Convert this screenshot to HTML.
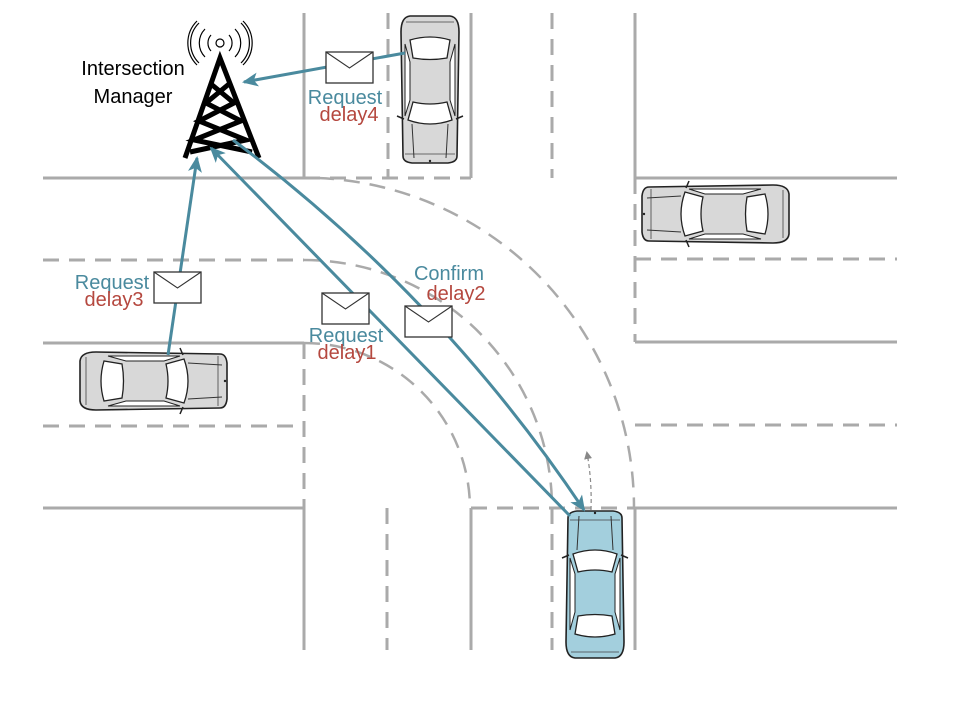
<!DOCTYPE html>
<html><head><meta charset="utf-8"><style>
html,body{margin:0;padding:0;background:#fff;}
svg{display:block;}
text{font-family:"Liberation Sans",sans-serif;}
</style></head><body>
<svg width="956" height="708" viewBox="0 0 956 708" xmlns="http://www.w3.org/2000/svg">
<defs>
<g id="car">
  <path d="M-27,6 Q-27,0 -18,-1 L18,-1 Q27,0 27,6 L29,130 Q29,145 20,146 L-20,146 Q-29,145 -29,130 Z" fill="currentColor" stroke="#222" stroke-width="1.6"/>
  <path d="M-25,8 L25,8 M-24,140 L24,140" stroke="#444" stroke-width="0.8" fill="none"/>
  <path d="M-16,4 L-18,38 M16,4 L18,38" stroke="#333" stroke-width="1" fill="none"/>
  <path d="M-22,42 Q0,34 22,42 L17,60 Q0,56 -17,60 Z" fill="#fff" stroke="#222" stroke-width="1.3"/>
  <path d="M-17,104 Q0,101 17,104 L20,122 Q0,128 -20,122 Z" fill="#fff" stroke="#222" stroke-width="1.3"/>
  <path d="M-25,46 L-20,62 L-20,100 L-25,118 Z M25,46 L20,62 L20,100 L25,118 Z" fill="#fff" stroke="#222" stroke-width="1"/>
  <path d="M-26,43 L-33,46 M26,43 L33,46" stroke="#222" stroke-width="1.5"/>
  <circle cx="0" cy="1" r="1.2" fill="#222"/>
</g>
<marker id="ah2" markerWidth="16" markerHeight="14" refX="14" refY="7" orient="auto" markerUnits="userSpaceOnUse">
  <path d="M0,0 L16,7 L0,14 L4,7 Z" fill="#4a8a9e"/>
</marker>
<marker id="ahg" markerWidth="8" markerHeight="8" refX="6" refY="4" orient="auto" markerUnits="userSpaceOnUse">
  <path d="M0,0 L8,4 L0,8 Z" fill="#888"/>
</marker>
<g id="env">
  <rect x="0" y="0" width="47" height="31" fill="#fff" stroke="#333" stroke-width="1.3"/>
  <path d="M0,0 L23.5,16 L47,0" fill="none" stroke="#333" stroke-width="1.1"/>
</g>
</defs>

<g stroke="#aaa" stroke-width="3" fill="none">
  <path d="M304,13 V178 M471,13 V178 M635,13 V178 M43,178 H304 M635,178 H897 M43,343 H304 M635,342 H897 M43,508 H304 M635,508 H897 M304,508 V650 M471,508 V650 M635,508 V650"/>
  <path stroke-dasharray="16,10" d="M388,13 V178 M552,13 V178 M304,178 H471 M43,260 H304 M43,426 H304 M304,343 V508 M635,178 V342 M635,259 H897 M635,425 H897 M471,508 H635 M387,508 V650 M552,508 V650"/>
</g>
<g stroke="#aaa" stroke-width="2.5" fill="none" stroke-dasharray="16,10">
  <path d="M318,178 A330,330 0 0 1 634,508"/>
  <path d="M304,260 A248,248 0 0 1 552,508"/>
  <path d="M304,343 A166,166 0 0 1 470,508"/>
</g>

<use href="#car" transform="translate(430,162) rotate(180)" style="color:#d8d8d8"/>
<use href="#car" transform="translate(643,214) rotate(-90)" style="color:#d8d8d8"/>
<use href="#car" transform="translate(226,381) rotate(90)" style="color:#d8d8d8"/>
<use href="#car" transform="translate(595,512)" style="color:#a3cfdd"/>

<!-- tower -->
<g stroke="#000" stroke-width="5" fill="none" stroke-linejoin="miter">
  <path d="M185,158 L220,58 L259,158"/>
  <path d="M211,84 L234,103 L199,121 L246,140 L190,152"/>
  <path d="M229,84 L206,103 L241,121 L194,140 L252,152"/>
</g>
<g stroke="#000" stroke-width="1.2" fill="none">
  <circle cx="220" cy="43" r="4"/>
  <path d="M211,35 A12,12 0 0 0 211,51 M229,35 A12,12 0 0 1 229,51"/>
  <path d="M205,29 A20,20 0 0 0 205,57 M235,29 A20,20 0 0 1 235,57"/>
  <path d="M199,23 A28,28 0 0 0 199,63 M241,23 A28,28 0 0 1 241,63"/>
  <path d="M197,21 A31,31 0 0 0 197,65 M243,21 A31,31 0 0 1 243,65"/>
</g>
<text x="133" y="75" font-size="20" text-anchor="middle" fill="#000">Intersection</text>
<text x="133" y="103" font-size="20" text-anchor="middle" fill="#000">Manager</text>

<g stroke="#4a8a9e" stroke-width="3" fill="none">
  <path d="M405,53 L244,82" marker-end="url(#ah2)"/>
  <path d="M168,355 L197,158" marker-end="url(#ah2)"/>
  <path d="M570,516 L211,148" marker-end="url(#ah2)"/>
  <path d="M233,140 Q440,295 584,510" marker-end="url(#ah2)"/>
</g>
<path d="M591,510 Q592,480 587,453" stroke="#888" stroke-width="1.2" fill="none" stroke-dasharray="4,3" marker-end="url(#ahg)"/>

<use href="#env" x="326" y="52"/>
<use href="#env" x="154" y="272"/>
<use href="#env" x="322" y="293"/>
<use href="#env" x="405" y="306"/>

<g font-size="20">
  <text x="345" y="104" text-anchor="middle" fill="#4a8a9e">Request</text>
  <text x="349" y="121" text-anchor="middle" fill="#b5483f">delay4</text>
  <text x="112" y="289" text-anchor="middle" fill="#4a8a9e">Request</text>
  <text x="114" y="306" text-anchor="middle" fill="#b5483f">delay3</text>
  <text x="346" y="342" text-anchor="middle" fill="#4a8a9e">Request</text>
  <text x="347" y="359" text-anchor="middle" fill="#b5483f">delay1</text>
  <text x="449" y="280" text-anchor="middle" fill="#4a8a9e">Confirm</text>
  <text x="456" y="300" text-anchor="middle" fill="#b5483f">delay2</text>
</g>
</svg>
</body></html>
